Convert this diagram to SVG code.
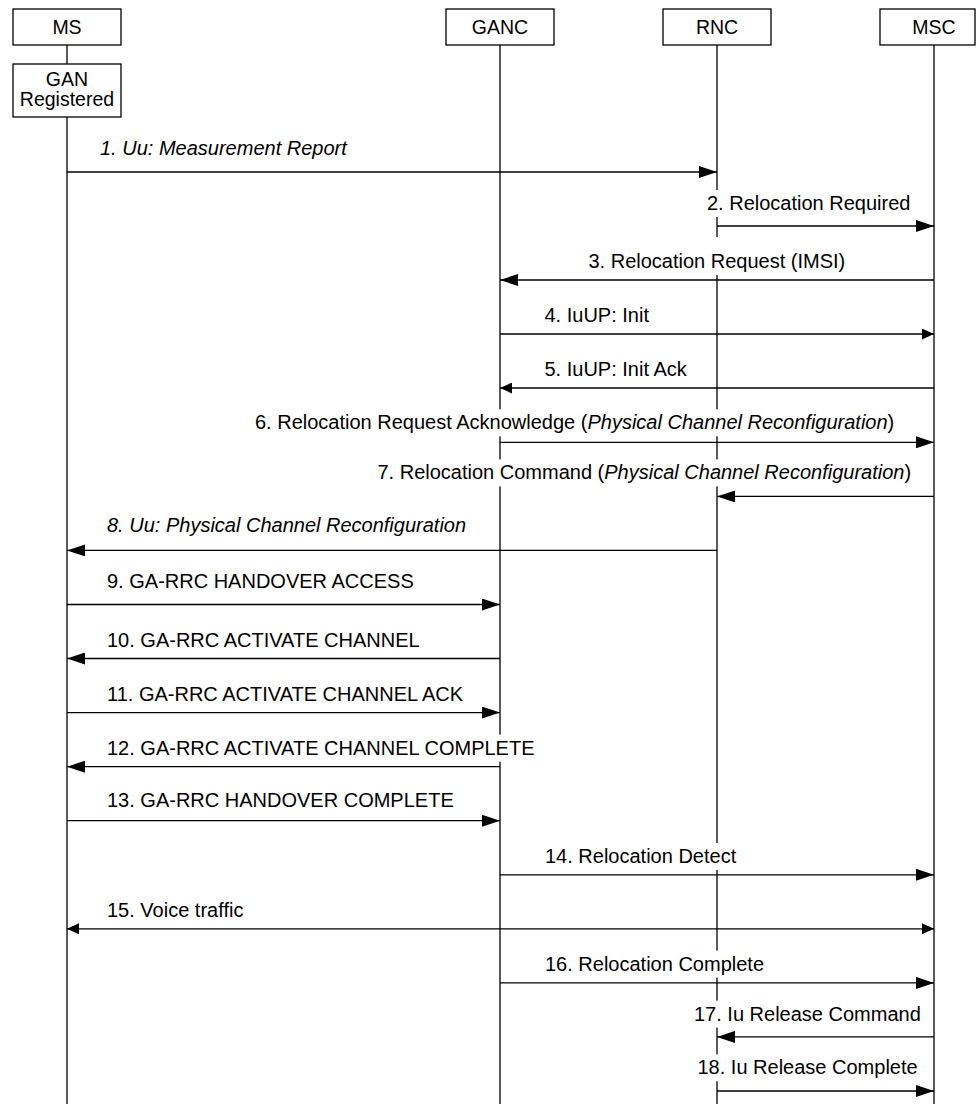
<svg xmlns="http://www.w3.org/2000/svg" width="976" height="1104" viewBox="0 0 976 1104">
<style>
.box{fill:#fff;stroke:#000;stroke-width:1.3}
.life{stroke:#000;stroke-width:1.3;fill:none}
.nt{font-family:"Liberation Sans",Arial,sans-serif;font-size:19.5px;fill:#000;text-anchor:middle}
.lbl{font-family:"Liberation Sans",Arial,sans-serif;font-size:20px;fill:#000}
.it{font-style:italic}
.bg{fill:#fff;stroke:none}
.msg{stroke:#000;stroke-width:1.3;fill:none;marker-end:url(#ah)}
.msgs{stroke:#000;stroke-width:1.3;fill:none;marker-end:url(#as)}
</style>
<defs>
<marker id="ah" viewBox="0 0 18 12" refX="18" refY="6" markerWidth="18" markerHeight="12" markerUnits="userSpaceOnUse" orient="auto-start-reverse"><path d="M0,0 L18,6 L0,12 Z" fill="#000"/></marker>
<marker id="as" viewBox="0 0 12 11" refX="12" refY="5.5" markerWidth="12" markerHeight="11" markerUnits="userSpaceOnUse" orient="auto-start-reverse"><path d="M0,0 L12,5.5 L0,11 Z" fill="#000"/></marker>
</defs>
<rect width="976" height="1104" fill="#fff"/>
<g id="MS">
<line class="life" x1="67" y1="45" x2="67" y2="64"/>
<line class="life" x1="67" y1="117" x2="67" y2="1104"/>
<rect class="box" x="13" y="9" width="108" height="36"/>
<text class="nt" x="67" y="34">MS</text>
</g>
<g id="MS_state">
<rect class="box" x="13" y="64" width="108" height="53"/>
<text class="nt" x="67" y="86">GAN</text>
<text class="nt" x="67" y="106">Registered</text>
</g>
<g id="GANC">
<line class="life" x1="500" y1="45" x2="500" y2="1104"/>
<rect class="box" x="446" y="9" width="108" height="36"/>
<text class="nt" x="500" y="34">GANC</text>
</g>
<g id="RNC">
<line class="life" x1="717" y1="45" x2="717" y2="1104"/>
<rect class="box" x="663" y="9" width="108" height="36"/>
<text class="nt" x="717" y="34">RNC</text>
</g>
<g id="MSC">
<line class="life" x1="934" y1="45" x2="934" y2="1104"/>
<rect class="box" x="880" y="9" width="95" height="36"/>
<text class="nt" x="934" y="34">MSC</text>
</g>
<g id="connectors">
<g id="m1"><rect class="bg" x="98" y="134.5" width="256" height="27"/><text class="lbl it" x="100" y="154.5">1. Uu: Measurement Report</text><line class="msg" x1="67" y1="172" x2="717" y2="172"/></g>
<g id="m2"><rect class="bg" x="705" y="190" width="208" height="27"/><text class="lbl" x="707" y="210">2. Relocation Required</text><line class="msg" x1="717" y1="226" x2="934" y2="226"/></g>
<g id="m3"><rect class="bg" x="586.5" y="237" width="261" height="38"/><text class="lbl" x="588.5" y="267.7">3. Relocation Request (IMSI)</text><line class="msg" x1="934" y1="280" x2="500" y2="280"/></g>
<g id="m4"><rect class="bg" x="542.5" y="302.3" width="109" height="27"/><text class="lbl" x="544.5" y="322.3">4. IuUP: Init</text><line class="msgs" x1="500" y1="334" x2="934" y2="334"/></g>
<g id="m5"><rect class="bg" x="542.5" y="356" width="148" height="27"/><text class="lbl" x="544.5" y="376">5. IuUP: Init Ack</text><line class="msgs" x1="934" y1="388" x2="500" y2="388"/></g>
<g id="m6"><rect class="bg" x="253" y="409.3" width="646" height="27"/><text class="lbl" x="255" y="429.3">6. Relocation Request Acknowledge (<tspan class="it">Physical Channel Reconfiguration</tspan>)</text><line class="msg" x1="500" y1="442.3" x2="934" y2="442.3"/></g>
<g id="m7"><rect class="bg" x="375.5" y="459.4" width="537" height="27"/><text class="lbl" x="377.5" y="479.4">7. Relocation Command (<tspan class="it">Physical Channel Reconfiguration</tspan>)</text><line class="msg" x1="934" y1="496.4" x2="717" y2="496.4"/></g>
<g id="m8"><rect class="bg" x="105" y="512" width="366" height="27"/><text class="lbl it" x="107" y="532">8. Uu: Physical Channel Reconfiguration</text><line class="msg" x1="717" y1="550.4" x2="67" y2="550.4"/></g>
<g id="m9"><rect class="bg" x="105" y="568" width="312" height="27"/><text class="lbl" x="107" y="588">9. GA-RRC HANDOVER ACCESS</text><line class="msg" x1="67" y1="604.5" x2="500" y2="604.5"/></g>
<g id="m10"><rect class="bg" x="105" y="627" width="305" height="27"/><text class="lbl" x="107" y="647">10. GA-RRC ACTIVATE CHANNEL</text><line class="msg" x1="500" y1="658.5" x2="67" y2="658.5"/></g>
<g id="m11"><rect class="bg" x="105" y="680.6" width="360" height="27"/><text class="lbl" x="107" y="700.6">11. GA-RRC ACTIVATE CHANNEL ACK</text><line class="msg" x1="67" y1="712.6" x2="500" y2="712.6"/></g>
<g id="m12"><rect class="bg" x="105" y="734.7" width="437" height="27"/><text class="lbl" x="107" y="754.7">12. GA-RRC ACTIVATE CHANNEL COMPLETE</text><line class="msg" x1="500" y1="766.7" x2="67" y2="766.7"/></g>
<g id="m13"><rect class="bg" x="105" y="786.7" width="351" height="27"/><text class="lbl" x="107" y="806.7">13. GA-RRC HANDOVER COMPLETE</text><line class="msg" x1="67" y1="820.7" x2="500" y2="820.7"/></g>
<g id="m14"><rect class="bg" x="543" y="843" width="195" height="27"/><text class="lbl" x="545" y="863">14. Relocation Detect</text><line class="msg" x1="500" y1="874.8" x2="934" y2="874.8"/></g>
<g id="m15"><rect class="bg" x="105" y="896.8" width="160" height="27"/><text class="lbl" x="107" y="916.8">15. Voice traffic</text><line class="msgs" style="marker-start:url(#as)" x1="67" y1="928.8" x2="934" y2="928.8"/></g>
<g id="m16"><rect class="bg" x="543" y="950.6" width="223" height="27"/><text class="lbl" x="545" y="970.6">16. Relocation Complete</text><line class="msg" x1="500" y1="982.9" x2="934" y2="982.9"/></g>
<g id="m17"><rect class="bg" x="692" y="1000.6" width="231" height="27"/><text class="lbl" x="694" y="1020.6">17. Iu Release Command</text><line class="msg" x1="934" y1="1036.9" x2="717" y2="1036.9"/></g>
<g id="m18"><rect class="bg" x="695.5" y="1054.3" width="224" height="27"/><text class="lbl" x="697.5" y="1074.3">18. Iu Release Complete</text><line class="msg" x1="717" y1="1091" x2="934" y2="1091"/></g>
</g>
</svg>
